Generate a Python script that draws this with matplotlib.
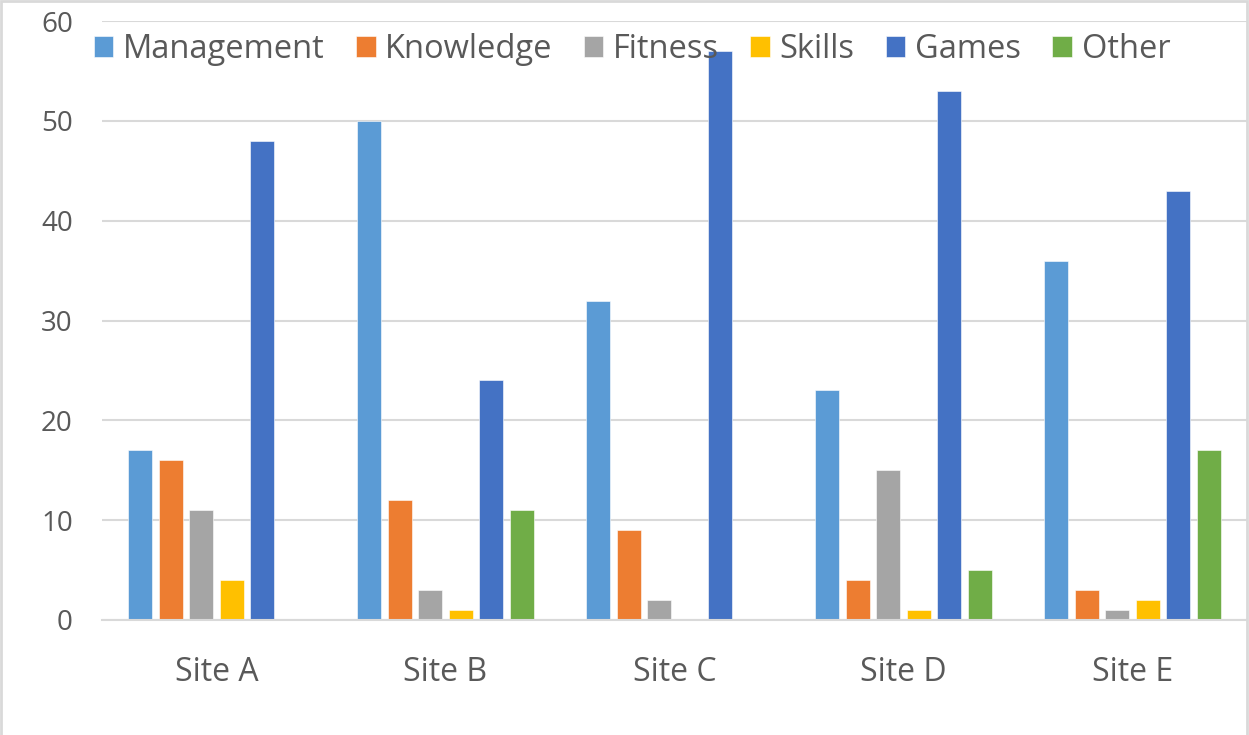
import numpy as np
import matplotlib
matplotlib.use("Agg")
import matplotlib.pyplot as plt

sites = ["Site A", "Site B", "Site C", "Site D", "Site E"]
series = ["Management", "Knowledge", "Fitness", "Skills", "Games", "Other"]
management = [17, 50, 32, 23, 36]
knowledge = [16, 12, 9, 4, 3]
fitness = [11, 3, 2, 15, 1]
skills = [4, 1, 0, 1, 2]
games = [48, 24, 57, 53, 43]
other = [0, 11, 0, 5, 17]
colors = ["#5B9BD5", "#ED7D31", "#A5A5A5", "#FFC000", "#4472C4", "#70AD47"]

values = [management, knowledge, fitness, skills, games, other]

plt.rcParams['font.family'] = ['Open Sans', 'DejaVu Sans']
txt = "#595959"

fig = plt.figure(figsize=(12.49, 7.35), dpi=100)
ax = fig.add_axes([102 / 1249, 115 / 735, 1145 / 1249, 599 / 735])

x = np.arange(len(sites))
step = 0.133
w = 0.105
for i, (name, vals) in enumerate(zip(series, values)):
    ax.bar(x + (i - 2.5) * step, vals, w, color=colors[i], label=name, zorder=2,
           edgecolor="white", linewidth=0.4)

ax.set_xlim(-0.5, len(sites) - 0.5)
ax.set_ylim(0, 60)
ax.set_yticks(range(0, 61, 10))
ax.yaxis.grid(True, color="#d9d9d9", linewidth=1.5, zorder=0)
ax.set_axisbelow(True)
for s in ["top", "right", "left"]:
    ax.spines[s].set_visible(False)
ax.spines["bottom"].set_color("#d9d9d9")
ax.spines["bottom"].set_linewidth(1.5)
ax.tick_params(axis="both", length=0, colors=txt)
ax.tick_params(axis="y", labelsize=20, pad=21)
ax.tick_params(axis="x", labelsize=23, pad=26)
ax.set_xticks(x)
ax.set_xticklabels(sites)

leg = fig.legend(loc="upper center", bbox_to_anchor=(0.506, 0.995), ncol=6, frameon=False,
                 fontsize=23.5, handlelength=0.6, handleheight=0.6, handletextpad=0.3,
                 columnspacing=0.95, labelcolor=txt)
leg.set_zorder(5)

border = plt.Rectangle((0.001, -0.1), 0.9975, 1.099, transform=fig.transFigure, fill=False,
                       edgecolor="#d9d9d9", linewidth=2)
fig.patches.append(border)

fig.savefig("out.png", dpi=100)
